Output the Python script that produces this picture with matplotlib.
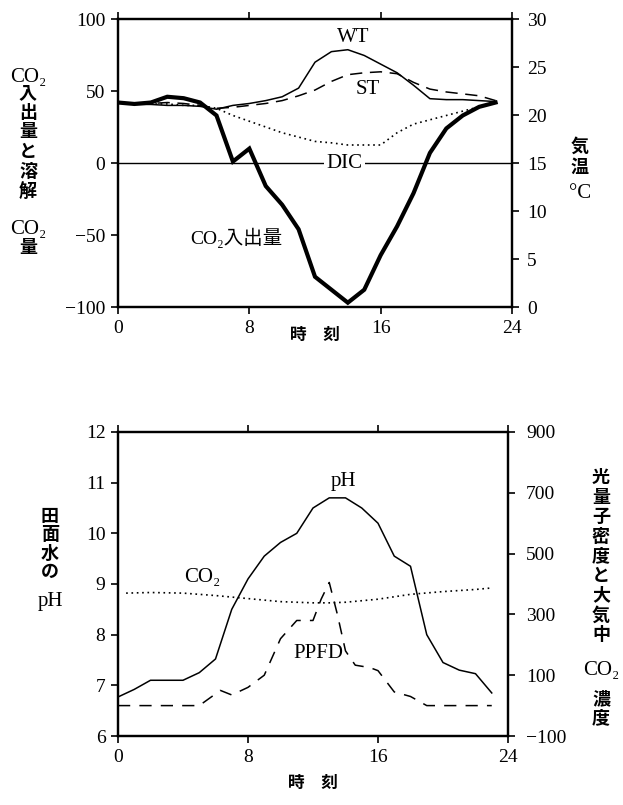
import matplotlib
matplotlib.use("Agg")
import matplotlib.pyplot as plt

plt.rcParams['font.family'] = ['Liberation Serif', 'Noto Sans CJK JP', 'DejaVu Serif']
plt.rcParams['axes.unicode_minus'] = True

# ---------------- data: upper panel ----------------
hours = list(range(24))
co2_flux = [42, 41, 42, 46, 45, 42, 33, 1, 10, -16, -29, -46, -79, -88,
            -97, -88, -64, -44, -21, 7, 24, 33, 39, 42]
dic = [42, 41, 41, 41, 40, 40, 38, 33, 29, 25, 21, 18, 15, 14,
       12.5, 12.5, 12.5, 21, 27, 30, 33, 36, 39, 42]
wt = [21.3, 21.1, 21.1, 21.0, 21.0, 20.9, 20.6, 21.0, 21.2, 21.5, 21.9, 22.8,
      25.5, 26.6, 26.8, 26.2, 25.3, 24.4, 23.1, 21.7, 21.6, 21.6, 21.5, 21.4]
st = [21.3, 21.1, 21.2, 21.3, 21.2, 21.0, 20.7, 20.8, 21.0, 21.2, 21.5, 22.0,
      22.6, 23.5, 24.2, 24.4, 24.5, 24.3, 23.4, 22.7, 22.4, 22.2, 22.0, 21.5]

# ---------------- data: lower panel ----------------
ph = [6.77, 6.92, 7.1, 7.1, 7.1, 7.25, 7.52, 8.5, 9.1, 9.55, 9.82, 10.0,
      10.5, 10.7, 10.7, 10.5, 10.2, 9.55, 9.35, 8.0, 7.45, 7.3, 7.23, 6.85]
co2_hours = [0.5, 2, 4, 6, 8, 10, 12, 13, 14, 16, 18, 20, 22, 23]
co2_air = [370, 372, 370, 362, 352, 342, 338, 338, 340, 350, 366, 375, 382, 387]
ppfd_hours = [0, 5, 6.3, 7, 8, 9, 10, 11, 12, 12.5, 13, 13.5, 14, 14.6,
              15.5, 16, 17, 18, 19, 23]
ppfd = [0, 0, 50, 35, 60, 100, 220, 280, 280, 350, 405, 300, 180, 133,
        125, 115, 45, 30, 0, 0]

xticks = [0, 8, 16, 24]

W, H = 623, 805
fig = plt.figure(figsize=(W / 100, H / 100), dpi=100)

def frac_box(x0, y0, x1, y1):
    return [x0 / W, 1 - y1 / H, (x1 - x0) / W, (y1 - y0) / H]

TICK_FS = 14
LAB_FS = 13
CO2_FS = 15

def style(ax):
    for s in ax.spines.values():
        s.set_linewidth(1.6)
    ax.tick_params(direction='out', length=5, width=1.2, labelsize=TICK_FS, pad=4)

def stacked(x, items):
    for s, y in items:
        latin = not any(ord(c) > 0x3000 for c in s)
        fig.text(x / W, 1 - y / H, s, ha='center', va='center',
                 fontsize=CO2_FS if latin else LAB_FS,
                 fontweight='normal' if latin else 'bold')

# ================= upper panel =================
ax1 = fig.add_axes(frac_box(118, 19, 512, 307))
ax1.plot(hours, co2_flux, color='black', lw=3.0, solid_joinstyle='miter')
ax1.plot(hours, dic, color='black', lw=1.2, linestyle=(0, (1, 2.2)))
ax1.axhline(0, color='black', lw=1.0)
ax1.set_xlim(0, 24)
ax1.set_ylim(-100, 100)
ax1.set_xticks(xticks)
ax1.set_yticks([-100, -50, 0, 50, 100])
ax1.tick_params(top=True, labeltop=False)
style(ax1)

ax1r = ax1.twinx()
ax1r.plot(hours, wt, color='black', lw=1.1)
ax1r.plot(hours, st, color='black', lw=1.1, linestyle=(0, (8, 5)))
ax1r.set_ylim(0, 30)
ax1r.set_yticks([0, 5, 10, 15, 20, 25, 30])
style(ax1r)
ax1r.tick_params(pad=6)

ax1.text(14.3, 87, 'WT', ha='center', va='center', fontsize=15)
ax1.text(15.2, 51, 'ST', ha='center', va='center', fontsize=15)
ax1.text(13.8, 0, 'DIC', ha='center', va='center', fontsize=15,
         bbox=dict(facecolor='white', edgecolor='none', pad=1.5))
ax1.text(7.2, -52, 'CO₂入出量', ha='center', va='center', fontsize=14)

stacked(28, [('CO₂', 78), ('入', 95), ('出', 114), ('量', 133), ('と', 152),
             ('溶', 172), ('解', 193), ('CO₂', 230), ('量', 249)])
stacked(580, [('気', 147), ('温', 168), ('°C', 193)])
fig.text(315 / W, 1 - 336 / H, '時　刻', ha='center', va='center', fontsize=12,
         fontweight='bold')

# ================= lower panel =================
ax2 = fig.add_axes(frac_box(118, 432, 508, 736))
ax2.plot(hours, ph, color='black', lw=1.1)
ax2.set_xlim(0, 24)
ax2.set_ylim(6, 12)
ax2.set_xticks(xticks)
ax2.set_yticks([6, 7, 8, 9, 10, 11, 12])
ax2.tick_params(top=True, labeltop=False)
style(ax2)

ax2r = ax2.twinx()
ax2r.plot(co2_hours, co2_air, color='black', lw=1.2, linestyle=(0, (1, 2.2)))
ax2r.plot(ppfd_hours, ppfd, color='black', lw=1.1, linestyle=(0, (8, 6)))
ax2r.set_ylim(-100, 900)
ax2r.set_yticks([-100, 100, 300, 500, 700, 900])
style(ax2r)
ax2r.tick_params(pad=8)

ax2.text(13.85, 11.02, 'pH', ha='center', va='center', fontsize=15)
ax2.text(5.2, 9.12, 'CO₂', ha='center', va='center', fontsize=15)
ax2.text(12.3, 7.62, 'PPFD', ha='center', va='center', fontsize=15)

stacked(50, [('田', 517), ('面', 535), ('水', 554), ('の', 572), ('pH', 601)])
stacked(601, [('光', 478), ('量', 498), ('子', 517), ('密', 537), ('度', 557),
              ('と', 576), ('大', 596), ('気', 616), ('中', 636), ('CO₂', 670),
              ('濃', 700), ('度', 719)])
fig.text(313 / W, 1 - 784 / H, '時　刻', ha='center', va='center', fontsize=12,
         fontweight='bold')

fig.savefig('out.png', dpi=100)
